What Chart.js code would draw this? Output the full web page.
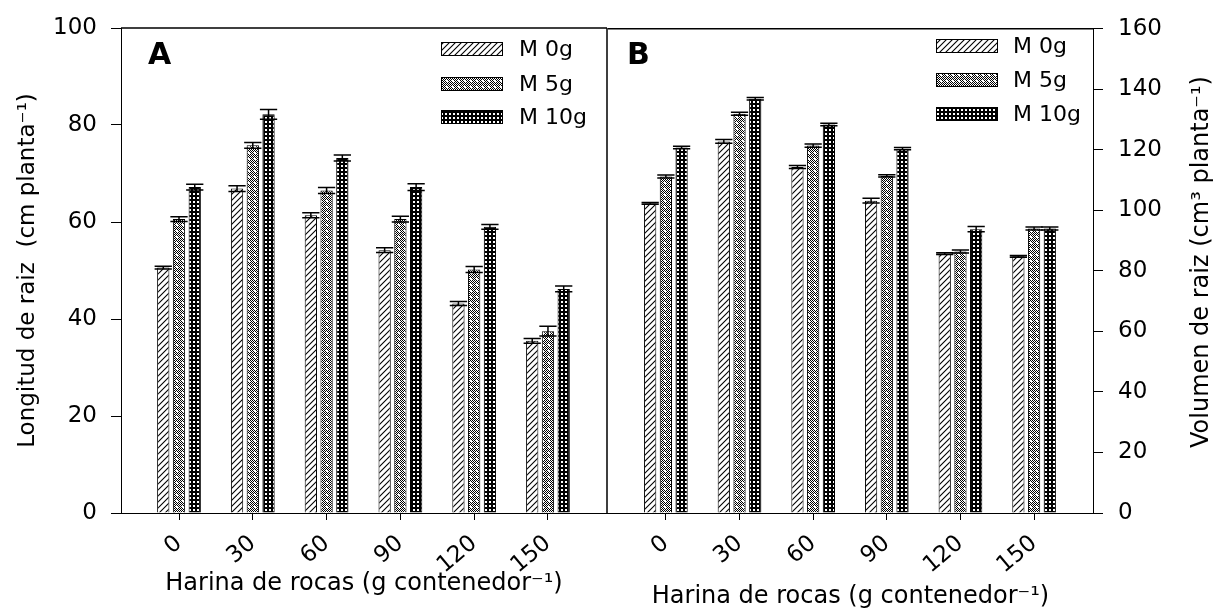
<!DOCTYPE html>
<html>
<head>
<meta charset="utf-8">
<script src="https://cdn.jsdelivr.net/npm/chart.js@4.4.0/dist/chart.umd.min.js"></script>
<style>
  html, body { margin: 0; padding: 0; background: #fff; }
  #wrap { position: relative; width: 1218px; height: 609px; }
  #cA { position: absolute; left: 0; top: 0; }
  #cB { position: absolute; left: 608px; top: 0; }
</style>
</head>
<body>
<div id="wrap">
  <canvas id="cA" width="608" height="609"></canvas>
  <canvas id="cB" width="610" height="609"></canvas>
</div>
<script>
// doses of rock flour (x categories) and the three M treatments
const doses = ["0", "30", "60", "90", "120", "150"];
const seriesNames = ["M 0g", "M 5g", "M 10g"];

// panel A: root length (cm planta-1)
const lengthM0 = [50.6, 66.9, 61.4, 54.2, 43.2, 35.5];
const lengthM5 = [60.6, 75.8, 66.5, 60.6, 50.2, 37.5];
const lengthM10 = [67.2, 82.2, 73.2, 67.2, 59.0, 46.2];
const lengthErrM0 = [0.3, 0.6, 0.5, 0.5, 0.4, 0.5];
const lengthErrM5 = [0.5, 0.6, 0.6, 0.6, 0.6, 1.0];
const lengthErrM10 = [0.6, 1.0, 0.6, 0.7, 0.5, 0.6];

// panel B: root volume (cm3 planta-1)
const volumeM0 = [102.3, 122.8, 114.3, 103.2, 85.7, 84.8];
const volumeM5 = [111.2, 131.9, 121.4, 111.4, 86.4, 94.0];
const volumeM10 = [120.8, 136.9, 128.4, 120.4, 93.8, 94.0];
const volumeErrM0 = [0.3, 0.6, 0.5, 0.8, 0.3, 0.3];
const volumeErrM5 = [0.5, 0.5, 0.5, 0.4, 0.5, 0.5];
const volumeErrM10 = [0.4, 0.4, 0.4, 0.4, 0.9, 0.5];

const fontFam = "'DejaVu Sans', 'Liberation Sans', Arial, sans-serif";

function makePattern(kind) {
  const c = document.createElement("canvas");
  const g = c.getContext("2d");
  if (kind === "hatch") {
    c.width = c.height = 6;
    g.fillStyle = "#fff"; g.fillRect(0, 0, 6, 6);
    g.strokeStyle = "#000"; g.lineWidth = 1.1;
    g.beginPath();
    g.moveTo(-1, 7); g.lineTo(7, -1);
    g.moveTo(-1, 1); g.lineTo(1, -1);
    g.moveTo(5, 7); g.lineTo(7, 5);
    g.stroke();
  } else if (kind === "check") {
    c.width = c.height = 6;
    g.fillStyle = "#fff"; g.fillRect(0, 0, 6, 6);
    g.fillStyle = "#000";
    for (let i = 0; i < 6; i++)
      for (let j = 0; j < 6; j++)
        if ((i + j) % 2 === 0) g.fillRect(i, j, 1, 1);
    g.fillStyle = "#fff"; g.fillRect(2, 2, 1, 1); g.fillRect(3, 3, 1, 1);
  } else {
    c.width = c.height = 4;
    g.fillStyle = "#000"; g.fillRect(0, 0, 4, 4);
    g.fillStyle = "#fff"; g.fillRect(1, 1, 2, 2);
  }
  return g.createPattern(c, "repeat");
}

const fills = [makePattern("hatch"), makePattern("check"), makePattern("grid")];

function datasets(valueLists, errLists) {
  return valueLists.map((vals, k) => ({
    label: seriesNames[k],
    data: vals.map((v, i) => ({ x: i, y: v, err: errLists[k][i] })),
    backgroundColor: fills[k],
    borderColor: "#000",
    borderWidth: 1,
    categoryPercentage: 0.64,
    barPercentage: 0.78
  }));
}

// error bars drawn from the data through the y scale
const errorBars = {
  id: "errorBars",
  afterDatasetsDraw(chart) {
    const { ctx } = chart;
    const y = chart.scales.y;
    ctx.save();
    ctx.strokeStyle = "#000";
    ctx.lineWidth = 1.5;
    chart.data.datasets.forEach((ds, k) => {
      chart.getDatasetMeta(k).data.forEach((bar, i) => {
        const pt = ds.data[i];
        const top = y.getPixelForValue(pt.y + pt.err);
        const bot = y.getPixelForValue(pt.y - pt.err);
        const half = bar.width / 2 + 2.5;
        ctx.beginPath();
        ctx.moveTo(bar.x, bot); ctx.lineTo(bar.x, top);
        ctx.moveTo(bar.x - half, top); ctx.lineTo(bar.x + half, top);
        ctx.moveTo(bar.x - half, bot); ctx.lineTo(bar.x + half, bot);
        ctx.stroke();
      });
    });
    ctx.restore();
  }
};

function decorations(cfg) {
  return {
    id: "decor",
    afterDraw(chart) {
      const { ctx, chartArea } = chart;
      ctx.save();
      // frame
      ctx.strokeStyle = "#000";
      ctx.lineWidth = 1.5;
      ctx.beginPath();
      ctx.moveTo(chartArea.left, chartArea.top);
      ctx.lineTo(chartArea.right, chartArea.top);
      if (cfg.rightBorder) {
        ctx.moveTo(chartArea.right, chartArea.top);
        ctx.lineTo(chartArea.right, chartArea.bottom);
      }
      ctx.stroke();
      // panel letter
      ctx.fillStyle = "#000";
      ctx.font = "bold 30px " + fontFam;
      ctx.textAlign = "left";
      ctx.textBaseline = "alphabetic";
      ctx.fillText(cfg.letter, cfg.letterX, 64);
      // legend
      ctx.font = "22px " + fontFam;
      ctx.textBaseline = "middle";
      chart.data.datasets.forEach((ds, k) => {
        const cy = cfg.legendY[k];
        ctx.fillStyle = ds.backgroundColor;
        ctx.fillRect(cfg.legendX, cy - 6.5, 61, 13);
        ctx.lineWidth = 1;
        ctx.strokeRect(cfg.legendX + 0.5, cy - 6.5, 61, 13);
        ctx.fillStyle = "#000";
        ctx.fillText(ds.label, cfg.legendTextX, cy + 1);
      });
      // rotated title on the right axis (reads bottom to top)
      if (cfg.rightTitle) {
        ctx.translate(cfg.rightTitleX, 262);
        ctx.rotate(-Math.PI / 2);
        ctx.textAlign = "center";
        ctx.font = "24px " + fontFam;
        ctx.fillText(cfg.rightTitle, 0, 0);
      }
      ctx.restore();
    }
  };
}

function xScale(titleBottom) {
  return {
    type: "linear",
    min: -0.786,
    max: 5.8,
    offset: false,
    afterBuildTicks: s => { s.ticks = doses.map((d, i) => ({ value: i })); },
    afterFit: s => { s.height = 96; },
    grid: { display: true, offset: false, drawOnChartArea: false, tickLength: 7, color: "#000", lineWidth: 1 },
    border: { display: true, color: "#000", width: 1 },
    ticks: {
      autoSkip: false,
      callback: v => doses[v],
      minRotation: 40, maxRotation: 40,
      padding: 10,
      color: "#000",
      font: { family: fontFam, size: 23 }
    },
    title: {
      display: true,
      text: "Harina de rocas (g contenedor\u207B\u00B9)",
      color: "#000",
      font: { family: fontFam, size: 24, lineHeight: 1 },
      padding: { top: 0, bottom: titleBottom }
    }
  };
}

// panel A
new Chart(document.getElementById("cA"), {
  type: "bar",
  data: { datasets: datasets([lengthM0, lengthM5, lengthM10], [lengthErrM0, lengthErrM5, lengthErrM10]) },
  options: {
    responsive: false,
    animation: false,
    layout: { padding: { left: 0, top: 28, right: 1, bottom: 0 } },
    plugins: { legend: { display: false }, tooltip: { enabled: false } },
    scales: {
      x: xScale(13),
      y: {
        min: 0, max: 100,
        afterFit: s => { s.width = 121; },
        grid: { drawOnChartArea: false, tickLength: 10, color: "#000", lineWidth: 1 },
        border: { display: true, color: "#000", width: 1 },
        ticks: { stepSize: 20, padding: 14, color: "#000", font: { family: fontFam, size: 23 } },
        title: {
          display: true,
          text: "Longitud de raiz  (cm planta\u207B\u00B9)",
          color: "#000",
          font: { family: fontFam, size: 23, lineHeight: 1 },
          padding: { top: 17, bottom: 0 }
        }
      }
    }
  },
  plugins: [errorBars, decorations({
    letter: "A", letterX: 148, rightBorder: true,
    legendX: 441, legendTextX: 519, legendY: [49, 84, 117]
  })]
});

// panel B
new Chart(document.getElementById("cB"), {
  type: "bar",
  data: { datasets: datasets([volumeM0, volumeM5, volumeM10], [volumeErrM0, volumeErrM5, volumeErrM10]) },
  options: {
    responsive: false,
    animation: false,
    layout: { padding: { left: 0, top: 28, right: 0, bottom: 0 } },
    plugins: { legend: { display: false }, tooltip: { enabled: false } },
    scales: {
      x: xScale(0),
      y: {
        position: "right",
        min: 0, max: 160,
        afterFit: s => { s.width = 125; },
        grid: { drawOnChartArea: false, tickLength: 10, color: "#000", lineWidth: 1 },
        border: { display: true, color: "#000", width: 1 },
        ticks: { stepSize: 20, padding: 15, color: "#000", font: { family: fontFam, size: 23 } }
      }
    }
  },
  plugins: [errorBars, decorations({
    letter: "B", letterX: 19, rightBorder: false,
    legendX: 328, legendTextX: 405, legendY: [46, 80, 114],
    rightTitle: "Volumen de raiz (cm\u00B3 planta\u207B\u00B9)", rightTitleX: 594
  })]
});
</script>
</body>
</html>
